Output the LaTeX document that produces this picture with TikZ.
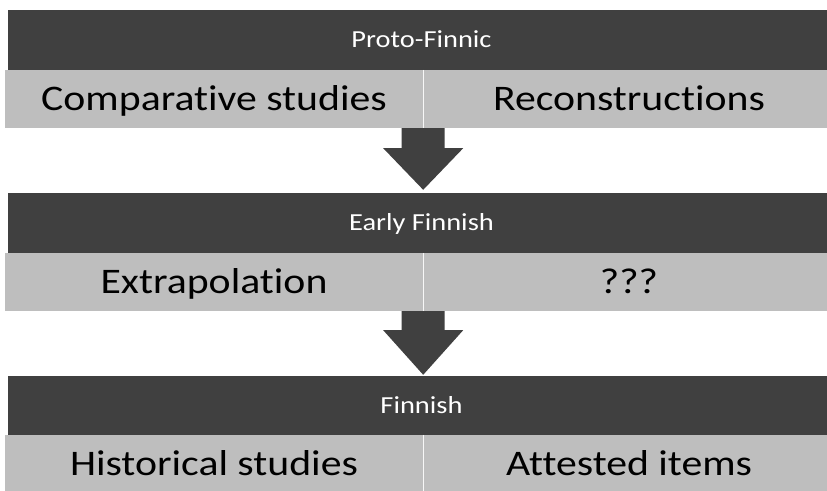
\documentclass[tikz,border=0pt]{standalone}
\usepackage{fontspec}
\usepackage{graphicx}
\setmainfont[Ligatures=NoCommon]{Carlito}
\usetikzlibrary{calc}
\definecolor{barDark}{HTML}{404040}
\definecolor{barLight}{HTML}{BEBEBE}
\newcommand\wtxt[1]{\scalebox{1.16}[1]{#1}}
\tikzset{
  darkbar/.style={fill=barDark, text=white, inner sep=0pt, minimum height=60pt, minimum width=827pt,
    font=\fontsize{24.5}{26}\selectfont, text height=15.5pt, text depth=0pt},
  lightcell/.style={fill=barLight, text=black, inner sep=0pt, minimum height=58pt,
    font=\fontsize{36}{40}\selectfont, text height=22.8pt, text depth=0pt},
  divider/.style={draw=white!88!barLight, line width=1.2pt},
  blockarrow/.style={fill=barDark}
}
\begin{document}
\begin{tikzpicture}[x=1pt,y=1pt]
\useasboundingbox (0,0) rectangle (827,490);
\fill[white] (0,0) rectangle (827,490);
% Row 1
\node[darkbar] (pf) at (421.5,450) {\wtxt{Proto-Finnic}};
\node[lightcell, minimum width=418pt] (pfL) at (214,391) {\wtxt{Comparative studies}};
\node[lightcell, minimum width=412pt] (pfR) at (629,391) {\wtxt{Reconstructions}};
\draw[divider] (pfL.north east) -- (pfL.south east);
% Row 2
\node[darkbar] (ef) at (421.5,267) {\wtxt{Early Finnish}};
\node[lightcell, minimum width=418pt] (efL) at (214,208) {\wtxt{Extrapolation}};
\node[lightcell, minimum width=412pt] (efR) at (629,208) {\wtxt{???}};
\draw[divider] (efL.north east) -- (efL.south east);
% Row 3
\node[darkbar, minimum height=59pt] (fi) at (421.5,84.5) {\wtxt{Finnish}};
\node[lightcell, minimum width=418pt] (fiL) at (214,26) {\wtxt{Historical studies}};
\node[lightcell, minimum width=412pt] (fiR) at (629,26) {\wtxt{Attested items}};
\draw[divider] (fiL.north east) -- (fiL.south east);
% Arrows
\coordinate (a1) at (pfL.south east);
\fill[blockarrow] ($(a1)+(-21.5,0)$) -- ++(0,-20) -- ++(-18.5,0)
  -- ($(a1|-ef.north)+(0,3)$) -- ($(a1)+(40,-20)$) -- ++(-18.5,0)
  -- ($(a1)+(21.5,0)$) -- cycle;
\coordinate (a2) at (efL.south east);
\fill[blockarrow] ($(a2)+(-21.5,0)$) -- ++(0,-19) -- ++(-18.5,0)
  -- ($(a2|-fi.north)+(0,1)$) -- ($(a2)+(40,-19)$) -- ++(-18.5,0)
  -- ($(a2)+(21.5,0)$) -- cycle;
\end{tikzpicture}
\end{document}
